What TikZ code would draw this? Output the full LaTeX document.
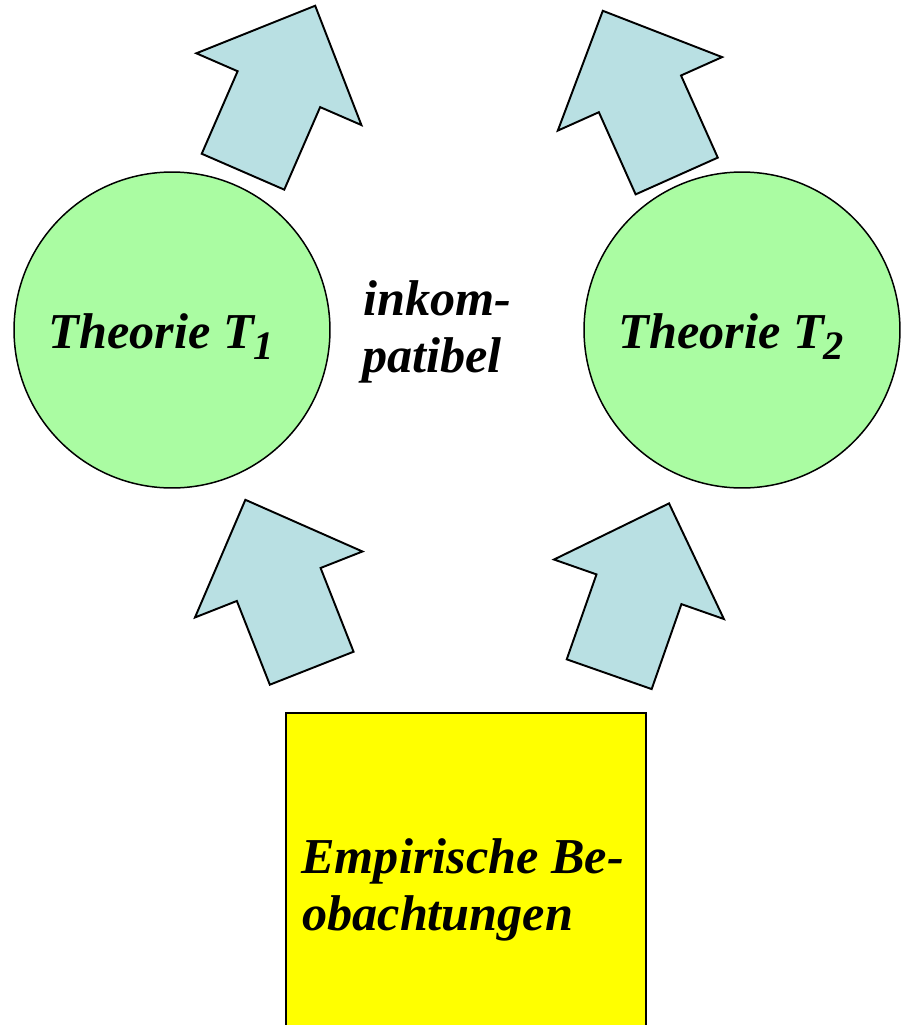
\documentclass[tikz,border=0pt]{standalone}
\usepackage{fontspec}
\setmainfont{Liberation Serif}
\definecolor{theoriegruen}{RGB}{170,252,162}
\definecolor{pfeilblau}{RGB}{185,224,227}
\definecolor{beobgelb}{RGB}{255,255,0}
\tikzset{
  theorie/.style={circle, draw, line width=0.85pt, fill=theoriegruen, minimum size=6.32cm, inner sep=0},
  pfeil/.style={draw, line width=1.1pt, fill=pfeilblau, line join=miter},
  beobbox/.style={rectangle, draw, line width=1.4pt, fill=beobgelb, minimum width=7.2cm, minimum height=6.8cm, anchor=north west, inner sep=0},
  wort/.style={font=\fontsize{28.6}{33}\selectfont\bfseries\itshape, inner sep=0}
}
\newcommand{\idx}[1]{\raisebox{-6.8pt}{\fontsize{23}{23}\selectfont #1}}

\begin{document}
\begin{tikzpicture}[x=0.02cm, y=-0.02cm]
  \useasboundingbox (0,0) rectangle (904,1025);
  \clip (0,0) rectangle (904,1025);

  % Theorien
  \node (t1) [theorie] at (172,330) {};
  \node (t2) [theorie] at (742,330) {};
  \node (t1text) [wort, anchor=base] at (161.5,348) {Theorie T\idx{1}};
  \node (t2text) [wort, anchor=base] at (731.5,348) {Theorie T\idx{2}};

  \node (inkom) [wort, anchor=base west] at (363,315) {inkom-};
  \node (patibel) [wort, anchor=base west] at (362,372) {patibel};

  % Beobachtungen
  \node (beob) [beobbox] at (285,712) {};
  \node (empir) [wort, anchor=base west] at (301,873) {Empirische Be-};
  \node (obacht) [wort, anchor=base west] at (302,930) {obachtungen};

  % Pfeile
  \foreach \px/\py/\w in {243/171.7/66.5, 676.7/176/114.1, 311.7/668.2/111.5, 609.2/674.2/70.7}
    \draw[pfeil, shift={(\px,\py)}, rotate=\w] (0,-45) -- (90,-45) -- (90,-90) -- (181,0) -- (90,90) -- (90,45) -- (0,45) -- cycle;
\end{tikzpicture}
\end{document}
